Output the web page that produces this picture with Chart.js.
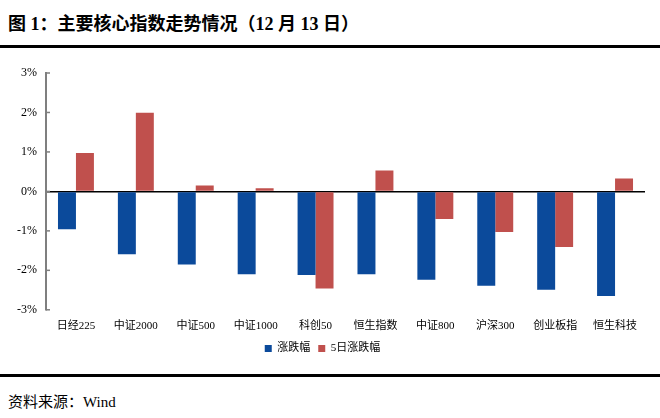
<!DOCTYPE html>
<html>
<head>
<meta charset="utf-8">
<script src="https://cdn.jsdelivr.net/npm/chart.js"></script>
<style>
  body { margin: 0; width: 660px; height: 418px; background: #fff; position: relative; overflow: hidden; }
  #title { position: absolute; left: 8px; top: 9px; font: bold 18px "Liberation Serif", "Noto Sans CJK SC", sans-serif; color: #000; }
  .rule { position: absolute; left: 0; width: 660px; height: 3px; background: #000; }
  #source { position: absolute; left: 8px; top: 390px; font: 15px "Liberation Serif", "Noto Sans CJK SC", serif; color: #000; }
  #box { position: absolute; left: 0; top: 55px; width: 660px; height: 309px; }
</style>
</head>
<body>
<div id="title">图 1：主要核心指数走势情况（12 月 13 日）</div>
<div class="rule" style="top:45px"></div>
<div id="box"><canvas id="myChart"></canvas></div>
<div class="rule" style="top:374px"></div>
<div id="source">资料来源：Wind</div>
<script>
// categories and values (percent)
const labels = ['日经225', '中证2000', '中证500', '中证1000', '科创50', '恒生指数', '中证800', '沪深300', '创业板指', '恒生科技'];
const dailyChange = [-0.96, -1.59, -1.85, -2.10, -2.12, -2.10, -2.24, -2.39, -2.49, -2.65];
const fiveDayChange = [0.97, 1.99, 0.15, 0.08, -2.46, 0.53, -0.70, -1.03, -1.41, 0.33];
const yTicks = [3, 2, 1, 0, -1, -2, -3];

const ctx = document.getElementById('myChart');
const cjk = '"Liberation Serif", "Noto Sans CJK SC", serif';

// small inward tick marks on the y axis, like the original
const innerTicks = {
  id: 'innerTicks',
  afterDraw(chart) {
    const y = chart.scales.y;
    const c = chart.ctx;
    c.save();
    c.strokeStyle = '#7f7f7f';
    c.lineWidth = 1.5;
    y.ticks.forEach(t => {
      const py = y.getPixelForValue(t.value);
      c.beginPath();
      c.moveTo(y.right, py);
      c.lineTo(y.right + 4, py);
      c.stroke();
    });
    c.restore();
  }
};

new Chart(ctx, {
  type: 'bar',
  data: {
    labels: labels,
    datasets: [
      { label: '涨跌幅', data: dailyChange, backgroundColor: '#0B4A9B' },
      { label: '5日涨跌幅', data: fiveDayChange, backgroundColor: '#C0504D' }
    ]
  },
  plugins: [innerTicks],
  options: {
    responsive: true,
    maintainAspectRatio: false,
    animation: false,
    layout: { padding: { left: 0, right: 15, top: 18, bottom: 0 } },
    datasets: { bar: { categoryPercentage: 0.6, barPercentage: 1.0 } },
    scales: {
      x: {
        grid: { display: false },
        border: { display: false },
        ticks: { color: '#000', font: { family: cjk, size: 11 }, maxRotation: 0, autoSkip: false, padding: 2 }
      },
      y: {
        min: -3,
        max: 3,
        afterFit: function (s) { s.width = 46; },
        afterBuildTicks: function (s) { s.ticks = yTicks.map(v => ({ value: v })); },
        border: { display: true, color: '#7f7f7f', width: 2 },
        grid: {
          color: c => (c.tick && c.tick.value === 0) ? '#000' : 'rgba(0,0,0,0)',
          lineWidth: 1.5,
          drawTicks: false
        },
        ticks: {
          color: '#000',
          font: { family: cjk, size: 12 },
          padding: 9,
          callback: v => v + '%'
        }
      }
    },
    plugins: {
      legend: {
        position: 'bottom',
        labels: { boxWidth: 7, boxHeight: 7, color: '#000', font: { family: cjk, size: 11 }, padding: 8 }
      },
      tooltip: { enabled: false }
    }
  }
});
</script>
</body>
</html>
